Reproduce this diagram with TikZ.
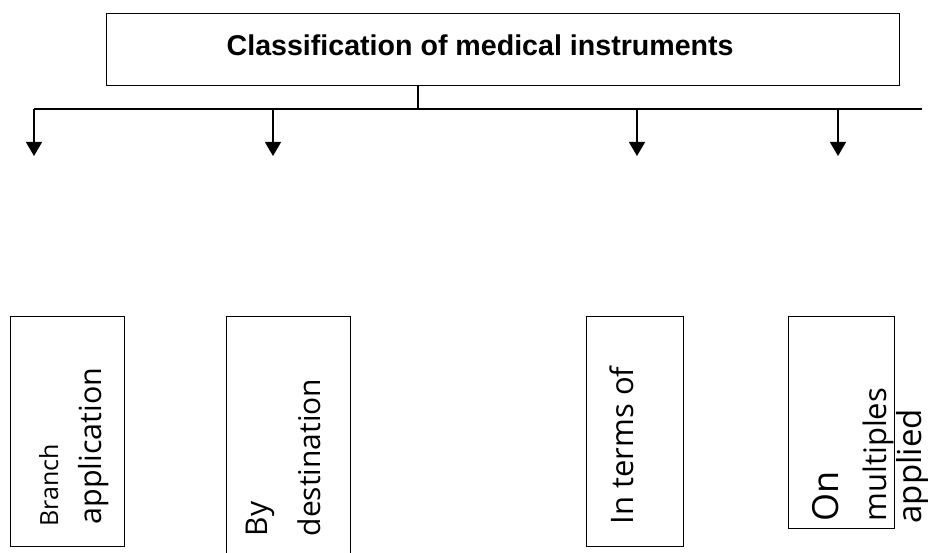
\documentclass[tikz,border=0pt]{standalone}
\usepackage{fontspec}
\setmainfont{Open Sans}
\newfontfamily\titlefont{Liberation Sans}
\usetikzlibrary{arrows.meta}
\newcommand{\fs}[1]{\fontsize{#1}{#1}\selectfont}
\begin{document}
\begin{tikzpicture}[x=1pt,y=-1pt,line width=1.3pt,
  frame/.style={draw,line width=1.3pt,anchor=north west,inner sep=0pt,rectangle},
  vtext/.style={rotate=90,anchor=base west,inner sep=0pt},
  branch/.style={-{Triangle[width=16pt,length=14pt]},line width=1.3pt}]
\useasboundingbox (0,0) rectangle (928,553);
\clip (0,0) rectangle (928,553);
% title
\node[frame,minimum width=793pt,minimum height=72pt] (title) at (106,13) {};
\node[anchor=base west,inner sep=0pt,font=\titlefont\bfseries\fs{28.6}] (ttext) at (226,56) {Classification of medical instruments};
% connectors
\coordinate (j) at (418,109);
\coordinate (hl) at (34,109);
\coordinate (hr) at (922,109);
\draw (title.south west -| j) -- (j);
\draw (hl) -- (hr);
\coordinate (t1) at (34,156);
\coordinate (t2) at (273,156);
\coordinate (t3) at (637,156);
\coordinate (t4) at (838,156);
\draw[branch] (hl) -- (t1);
\draw[branch] (hl -| t2) -- (t2);
\draw[branch] (hl -| t3) -- (t3);
\draw[branch] (hl -| t4) -- (t4);
% boxes
\node[frame,minimum width=114pt,minimum height=230pt] (b1) at (10,316) {};
\node[frame,minimum width=124pt,minimum height=260pt] (b2) at (226,316) {};
\node[frame,minimum width=97pt,minimum height=230pt] (b3) at (586,316) {};
\node[frame,minimum width=106pt,minimum height=212pt] (b4) at (788,316) {};
% texts
\node[vtext,font=\fs{25}] (l1a) at (58,527) {Branch};
\node[vtext,font=\fs{30.5}] (l1b) at (101,525) {application};
\node[vtext,font=\fs{30}] (l2a) at (267,537) {By};
\node[vtext,font=\fs{30}] (l2b) at (320,537) {destination};
\node[vtext,font=\fs{31}] (l3) at (633,525) {In terms of};
\node[vtext,font=\fs{36}] (l4a) at (838,522) {On};
\node[vtext,font=\fs{31}] (l4b) at (886,522) {multiples};
\node[vtext,font=\fs{33}] (l4c) at (921,524) {applied};
\end{tikzpicture}
\end{document}
